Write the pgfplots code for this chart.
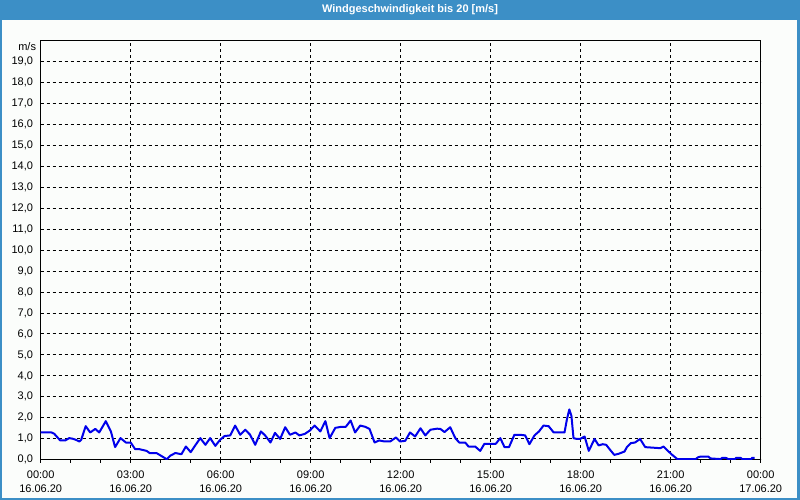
\documentclass[border=0pt]{standalone}
\usepackage{fontspec}
\setmainfont{Liberation Sans}
\usepackage{pgfplots}
\pgfplotsset{compat=1.18}
\definecolor{titleblue}{RGB}{60,143,198}
\definecolor{bgwhite}{RGB}{251,253,251}
\definecolor{lineblue}{RGB}{0,0,235}
\begin{document}
\begin{tikzpicture}[x=1pt,y=1pt]
\useasboundingbox (0,0) rectangle (800,500);
\fill[titleblue] (0,0) rectangle (800,500);
\fill[bgwhite] (2,2) rectangle (797,480);
\node[text=white, font=\bfseries\fontsize{11}{13}\selectfont, inner sep=0pt] at (410,490) {Windgeschwindigkeit bis 20 [m/s]};
\node[anchor=east, inner sep=0pt, font=\fontsize{11}{13}\selectfont] at (36.2,453.5) {m/s};
\begin{axis}[
  at={(40.7pt,40.3pt)}, anchor=south west,
  scale only axis, width=720pt, height=419pt,
  xmin=0, xmax=24, ymin=0, ymax=20,
  xtick={0,3,...,24},
  xticklabels={00:00\\16.06.20,03:00\\16.06.20,06:00\\16.06.20,09:00\\16.06.20,12:00\\16.06.20,15:00\\16.06.20,18:00\\16.06.20,21:00\\16.06.20,00:00\\17.06.20},
  minor x tick num=2,
  ytick={0,1,...,19},
  xtick pos=lower, ytick pos=left,
  tick align=outside,
  major tick length=3pt, minor tick length=3pt,
  xtick style={black, line width=1pt},
  ytick style={draw=none},
  grid=major,
  major grid style={black, line width=1pt, dash pattern=on 3pt off 3pt},
  axis line style={black, line width=1pt},
  tick label style={font=\fontsize{11}{14.3}\selectfont},
  xticklabel style={align=center, inner sep=0pt, anchor=north, yshift=-8pt},
  yticklabel style={anchor=east, inner sep=0pt, xshift=-4.5pt},
  /pgf/number format/.cd, fixed, fixed zerofill, precision=1, use comma, assume math mode=true,
]
\addplot[lineblue, line width=2pt, line join=round] coordinates {
(0,1.30) (0.36,1.30) (0.45,1.24) (0.65,0.92) (0.82,0.92) (0.95,1.03) (1.07,1.00) (1.17,0.95) (1.29,0.87) (1.35,0.95)
(1.50,1.60) (1.65,1.30) (1.82,1.47) (1.95,1.30) (2.17,1.84) (2.34,1.35) (2.48,0.60) (2.66,1.03) (2.84,0.82) (3.00,0.82)
(3.15,0.50) (3.30,0.50) (3.53,0.42) (3.64,0.31) (3.87,0.31) (4.09,0.12) (4.20,0.02) (4.32,0.19) (4.49,0.32) (4.69,0.26)
(4.84,0.63) (5.00,0.36) (5.15,0.68) (5.32,1.03) (5.49,0.71) (5.65,1.03) (5.82,0.66) (5.98,0.95) (6.13,1.13) (6.32,1.16)
(6.48,1.63) (6.65,1.19) (6.82,1.43) (6.98,1.19) (7.15,0.71) (7.34,1.35) (7.48,1.16) (7.66,0.82) (7.81,1.28) (7.98,0.99)
(8.15,1.55) (8.31,1.19) (8.49,1.30) (8.62,1.16) (8.80,1.23) (8.97,1.39) (9.13,1.63) (9.32,1.35) (9.49,1.84) (9.63,1.03)
(9.82,1.52) (10.02,1.57) (10.17,1.57) (10.33,1.87) (10.48,1.30) (10.65,1.63) (10.82,1.57) (10.96,1.47) (11.13,0.82) (11.28,0.92)
(11.46,0.87) (11.65,0.87) (11.84,1.06) (11.98,0.87) (12.15,0.90) (12.31,1.30) (12.48,1.11) (12.66,1.50) (12.82,1.16) (12.99,1.43)
(13.21,1.48) (13.32,1.47) (13.46,1.32) (13.65,1.55) (13.82,1.03) (13.95,0.82) (14.15,0.82) (14.26,0.63) (14.48,0.63) (14.65,0.42)
(14.79,0.76) (14.98,0.76) (15.17,0.76) (15.32,1.03) (15.46,0.60) (15.61,0.60) (15.79,1.19) (15.98,1.19) (16.15,1.16) (16.29,0.74)
(16.46,1.16) (16.61,1.35) (16.76,1.63) (16.93,1.60) (17.10,1.30) (17.46,1.30) (17.54,1.92) (17.62,2.40) (17.69,2.10) (17.76,1.03)
(17.87,0.99) (17.98,0.99) (18.13,1.11) (18.27,0.42) (18.46,0.99) (18.60,0.68) (18.73,0.74) (18.85,0.71) (18.98,0.47) (19.12,0.23)
(19.26,0.28) (19.46,0.39) (19.54,0.60) (19.67,0.79) (19.81,0.82) (19.98,0.99) (20.15,0.60) (20.65,0.55) (20.76,0.63) (20.87,0.47)
(21.05,0.23) (21.22,0.03) (21.83,0.03) (21.92,0.12) (22.00,0.15) (22.25,0.15) (22.33,0.06) (22.66,0.03) (22.72,0.09) (22.83,0.09)
(22.92,0.03) (23.14,0.03) (23.18,0.09) (23.33,0.09) (23.38,0.03) (23.69,0.03) (23.71,0.09) (23.80,0.09)
};
\end{axis}
\end{tikzpicture}
\end{document}
